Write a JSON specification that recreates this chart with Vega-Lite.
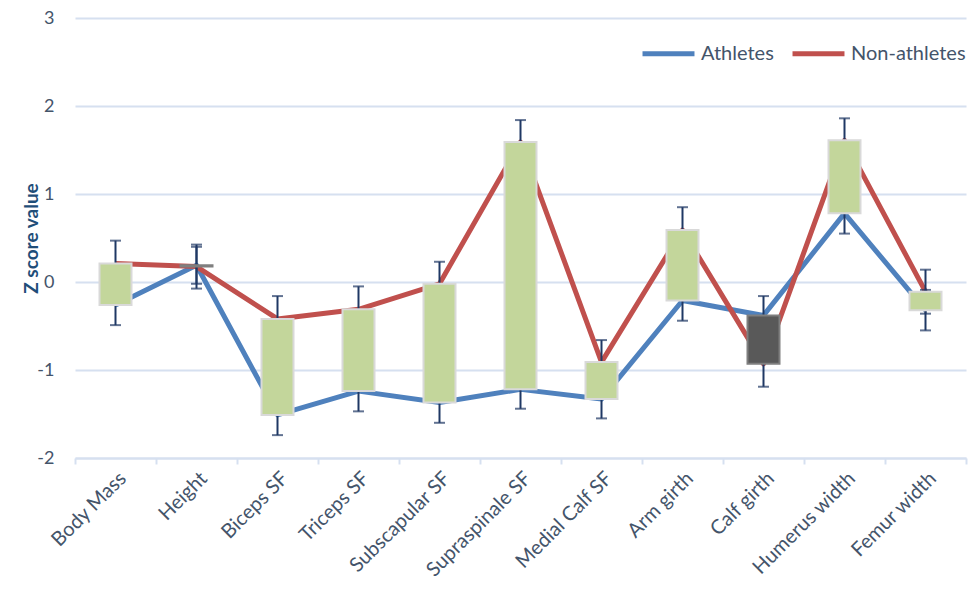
{
  "$schema": "https://vega.github.io/schema/vega-lite/v6.json",
  "width": 891,
  "height": 440,
  "autosize": {"type": "none"},
  "padding": {"left": 75, "top": 18, "right": 11, "bottom": 138},
  "background": "white",
  "config": {
    "font": "Lato",
    "view": {"stroke": null}
  },
  "data": {
    "values": [
      {"measure": "Body Mass", "group": "Athletes", "z": -0.26, "lo": -0.49, "hi": -0.03},
      {"measure": "Body Mass", "group": "Non-athletes", "z": 0.21, "lo": -0.05, "hi": 0.47},
      {"measure": "Height", "group": "Athletes", "z": 0.19, "lo": -0.02, "hi": 0.40},
      {"measure": "Height", "group": "Non-athletes", "z": 0.175, "lo": -0.075, "hi": 0.425},
      {"measure": "Biceps SF", "group": "Athletes", "z": -1.51, "lo": -1.74, "hi": -1.28},
      {"measure": "Biceps SF", "group": "Non-athletes", "z": -0.42, "lo": -0.68, "hi": -0.16},
      {"measure": "Triceps SF", "group": "Athletes", "z": -1.24, "lo": -1.47, "hi": -1.01},
      {"measure": "Triceps SF", "group": "Non-athletes", "z": -0.31, "lo": -0.57, "hi": -0.05},
      {"measure": "Subscapular SF", "group": "Athletes", "z": -1.37, "lo": -1.60, "hi": -1.14},
      {"measure": "Subscapular SF", "group": "Non-athletes", "z": -0.02, "lo": -0.27, "hi": 0.23},
      {"measure": "Supraspinale SF", "group": "Athletes", "z": -1.22, "lo": -1.44, "hi": -1.00},
      {"measure": "Supraspinale SF", "group": "Non-athletes", "z": 1.59, "lo": 1.34, "hi": 1.84},
      {"measure": "Medial Calf SF", "group": "Athletes", "z": -1.33, "lo": -1.55, "hi": -1.11},
      {"measure": "Medial Calf SF", "group": "Non-athletes", "z": -0.91, "lo": -1.16, "hi": -0.66},
      {"measure": "Arm girth", "group": "Athletes", "z": -0.21, "lo": -0.44, "hi": 0.02},
      {"measure": "Arm girth", "group": "Non-athletes", "z": 0.59, "lo": 0.33, "hi": 0.85},
      {"measure": "Calf girth", "group": "Athletes", "z": -0.38, "lo": -0.61, "hi": -0.16},
      {"measure": "Calf girth", "group": "Non-athletes", "z": -0.93, "lo": -1.19, "hi": -0.67},
      {"measure": "Humerus width", "group": "Athletes", "z": 0.78, "lo": 0.55, "hi": 1.01},
      {"measure": "Humerus width", "group": "Non-athletes", "z": 1.61, "lo": 1.36, "hi": 1.86},
      {"measure": "Femur width", "group": "Athletes", "z": -0.32, "lo": -0.55, "hi": -0.09},
      {"measure": "Femur width", "group": "Non-athletes", "z": -0.11, "lo": -0.36, "hi": 0.14}
    ]
  },
  "encoding": {
    "x": {
      "field": "measure",
      "type": "nominal",
      "sort": ["Body Mass", "Height", "Biceps SF", "Triceps SF", "Subscapular SF", "Supraspinale SF", "Medial Calf SF", "Arm girth", "Calf girth", "Humerus width", "Femur width"],
      "scale": {"paddingInner": 0, "paddingOuter": 0},
      "axis": {
        "title": null,
        "labelAngle": -45,
        "labelFontSize": 20,
        "labelColor": "#44546A",
        "domainColor": "#D6E0F0",
        "domainWidth": 2,
        "tickColor": "#D6E0F0",
        "tickWidth": 2,
        "tickSize": 6,
        "tickBand": "extent",
        "labelPadding": 4,
        "grid": false
      }
    }
  },
  "layer": [
    {
      "mark": {"type": "line", "strokeWidth": 5, "strokeJoin": "round"},
      "encoding": {
        "y": {
          "field": "z",
          "type": "quantitative",
          "title": "Z score value",
          "scale": {"domain": [-2, 3], "nice": false, "zero": false},
          "axis": {
            "labelExpr": "toString(datum.value)",
            "titleFontSize": 19,
            "titleFontWeight": "bold",
            "titleColor": "#1F4E79",
            "titlePadding": -5,
            "labelFontSize": 18,
            "labelColor": "#44546A",
            "labelPadding": 21,
            "values": [-2, -1, 0, 1, 2, 3],
            "ticks": false,
            "domain": false,
            "gridColor": "#D6E0F0",
            "gridWidth": 2
          }
        },
        "color": {
          "field": "group",
          "type": "nominal",
          "scale": {"domain": ["Athletes", "Non-athletes"], "range": ["#4F81BD", "#C0504D"]},
          "legend": {
            "orient": "none",
            "legendX": 565,
            "legendY": 7,
            "direction": "horizontal",
            "title": null,
            "symbolType": "stroke",
            "symbolSize": 2700,
            "symbolStrokeWidth": 5,
            "labelFontSize": 20,
            "labelColor": "#44546A",
            "labelOffset": 4,
            "columnPadding": 8
          }
        }
      }
    },
    {
      "mark": {"type": "rule", "color": "#1F3864", "strokeWidth": 2},
      "encoding": {
        "y": {"field": "lo", "type": "quantitative", "title": "Z score value"},
        "y2": {"field": "hi"},
        "detail": {"field": "group"}
      }
    },
    {
      "mark": {"type": "tick", "color": "#1F3864", "thickness": 2, "size": 11},
      "encoding": {
        "y": {"field": "hi", "type": "quantitative", "title": "Z score value"},
        "detail": {"field": "group"}
      }
    },
    {
      "mark": {"type": "tick", "color": "#1F3864", "thickness": 2, "size": 11},
      "encoding": {
        "y": {"field": "lo", "type": "quantitative", "title": "Z score value"},
        "detail": {"field": "group"}
      }
    },
    {
      "transform": [{"pivot": "group", "value": "z", "groupby": ["measure"]}],
      "mark": {"type": "bar", "width": 32, "strokeWidth": 2},
      "encoding": {
        "y": {"field": "Athletes", "type": "quantitative", "title": "Z score value"},
        "y2": {"field": "Non-athletes"},
        "fill": {
          "condition": {"test": "datum['Non-athletes'] >= datum['Athletes']", "value": "#C3D69B"},
          "value": "#595959"
        },
        "stroke": {
          "condition": {"test": "datum['Non-athletes'] >= datum['Athletes']", "value": "#D9D9D9"},
          "value": "#7F7F7F"
        }
      }
    }
  ]
}
